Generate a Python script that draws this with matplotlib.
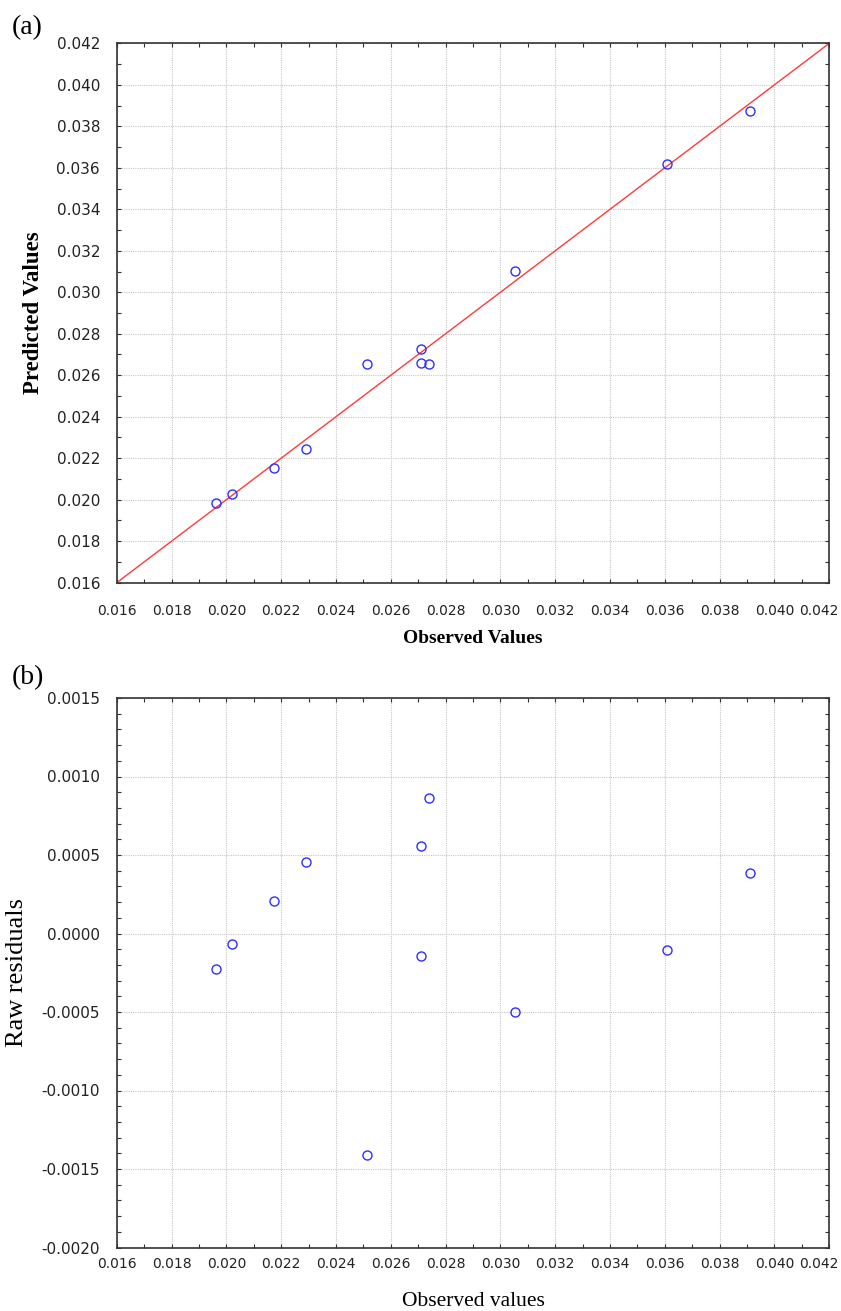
import matplotlib
matplotlib.use("Agg")
import matplotlib.pyplot as plt
from matplotlib.ticker import MultipleLocator, FormatStrFormatter
from matplotlib.transforms import ScaledTranslation

plt.rcParams['axes.unicode_minus'] = False

# values
observed = [0.01962, 0.02019, 0.02174, 0.02292, 0.02512, 0.02712,
            0.02712, 0.02741, 0.03054, 0.03607, 0.03912]
predicted = [0.01985, 0.02026, 0.02154, 0.02246, 0.02653, 0.02726,
             0.02657, 0.02655, 0.03104, 0.03618, 0.03873]
residuals = [-0.000223, -0.000068, 0.000204, 0.000457, -0.001408, -0.000143,
             0.000555, 0.000863, -0.000500, -0.000107, 0.000387]

fit_line = [0.016, 0.042]
x_ticks = [0.016, 0.018, 0.020, 0.022, 0.024, 0.026, 0.028,
           0.030, 0.032, 0.034, 0.036, 0.038, 0.040, 0.042]
x_labels = ['%.3f' % v for v in x_ticks]

W, H = 841, 1311
fig = plt.figure(figsize=(W / 100, H / 100), dpi=100)

ax1 = fig.add_axes([116.7 / W, 1 - 582.7 / H, 712.6 / W, 539.4 / H])
ax2 = fig.add_axes([116.7 / W, 1 - 1247.5 / H, 712.6 / W, 549.5 / H])

serif = 'Liberation Serif'


def style_axes(ax, ymajor, yminor, yfmt, xpad):
    ax.set_xticks(x_ticks)
    labels = ax.set_xticklabels(x_labels)
    ax.xaxis.set_minor_locator(MultipleLocator(0.001))
    ax.yaxis.set_major_locator(MultipleLocator(ymajor))
    ax.yaxis.set_minor_locator(MultipleLocator(yminor))
    ax.yaxis.set_major_formatter(FormatStrFormatter(yfmt))
    ax.tick_params(which='both', direction='in', top=True, right=True,
                   length=3, width=0.8, color='#333333')
    ax.tick_params(axis='y', which='major', pad=12, labelsize=11,
                   labelcolor='#222222')
    ax.tick_params(axis='x', which='major', pad=xpad, labelsize=10,
                   labelcolor='#222222')
    ax.grid(True, which='major', color='#c8c8c8', linestyle=(0, (1, 1)),
            linewidth=0.8)
    ax.set_axisbelow(True)
    for sp in ax.spines.values():
        sp.set_linewidth(1.2)
        sp.set_color('#333333')
    # last x label sits a little left of its tick in the reference
    labels[-1].set_horizontalalignment('right')
    labels[-1].set_transform(labels[-1].get_transform() +
                             ScaledTranslation(0.09, 0, fig.dpi_scale_trans))


# (a) predicted vs observed
ax1.plot(fit_line, fit_line, color='#ff3b3b', linewidth=1.0, zorder=2)
ax1.plot(observed, predicted, linestyle='none', marker='o', markersize=6.5,
         markerfacecolor='none', markeredgecolor='#2f2fff',
         markeredgewidth=1.0, zorder=3)
ax1.set_xlim(0.016, 0.042)
ax1.set_ylim(0.016, 0.042)
style_axes(ax1, 0.002, 0.001, '%.3f', 15)
ax1.set_xlabel('Observed Values', fontfamily=serif, fontweight='bold',
               fontsize=14, labelpad=9)
ax1.set_ylabel('Predicted Values', fontfamily=serif, fontweight='bold',
               fontsize=16.5, labelpad=9)

# (b) residuals vs observed
ax2.plot(observed, residuals, linestyle='none', marker='o', markersize=6.5,
         markerfacecolor='none', markeredgecolor='#2f2fff',
         markeredgewidth=1.0, zorder=3)
ax2.set_xlim(0.016, 0.042)
ax2.set_ylim(-0.0020, 0.0015)
style_axes(ax2, 0.0005, 0.0001, '%.4f', 7)
ax2.set_xlabel('Observed values', fontfamily=serif, fontsize=15.5,
               labelpad=15)
ax2.set_ylabel('Raw residuals', fontfamily=serif, fontsize=19, labelpad=10)

fig.text(12 / W, 1 - 28 / H, '(a)', fontfamily=serif, fontsize=20,
         va='center', ha='left')
fig.text(12 / W, 1 - 678 / H, '(b)', fontfamily=serif, fontsize=20,
         va='center', ha='left')

fig.savefig('out.png', dpi=100)
